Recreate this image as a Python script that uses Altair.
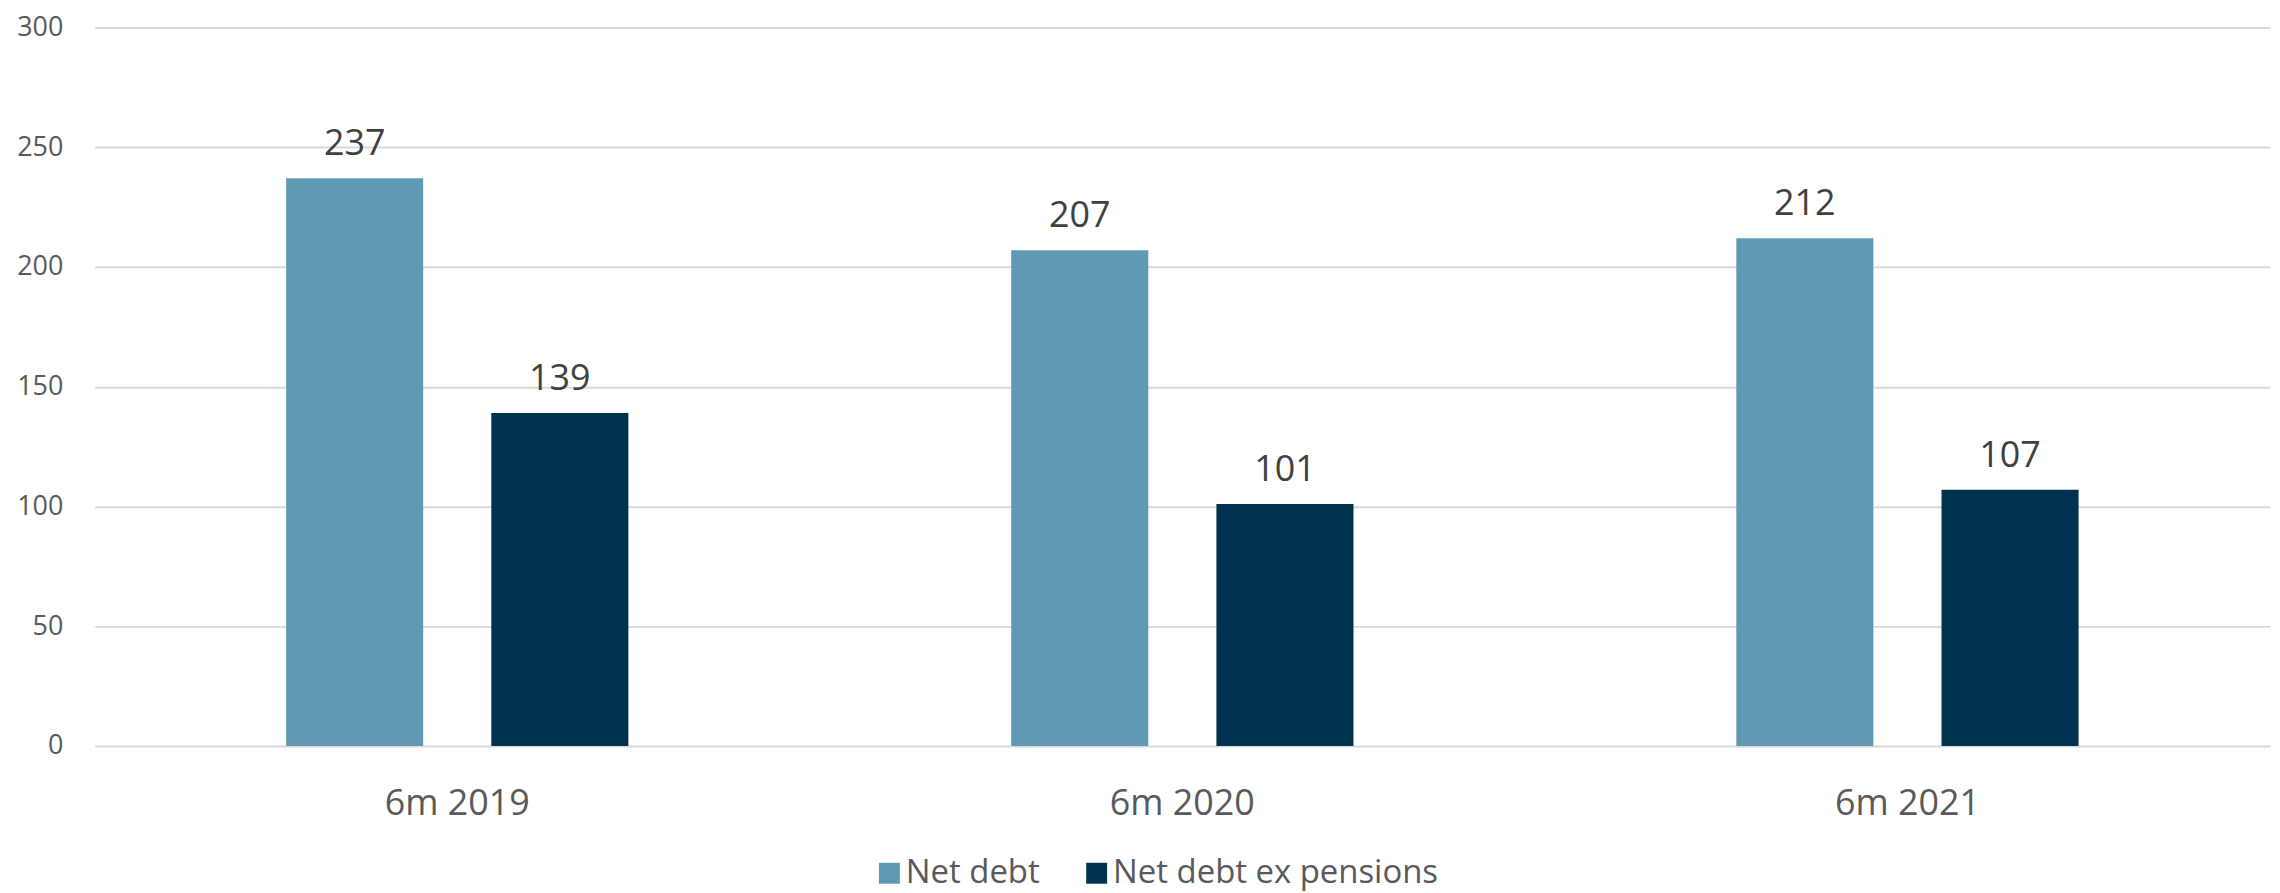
import altair as alt
import pandas as pd

categories = ["6m 2019", "6m 2020", "6m 2021"]
series_names = ["Net debt", "Net debt ex pensions"]
net_debt = [237, 207, 212]
net_debt_ex_pensions = [139, 101, 107]
series_colors = ["#6099B4", "#00324F"]

rows = []
for i, c in enumerate(categories):
    rows.append({"period": c, "series": series_names[0], "value": net_debt[i]})
    rows.append({"period": c, "series": series_names[1], "value": net_debt_ex_pensions[i]})
df = pd.DataFrame(rows)

FONT = "Open Sans"

x_enc = alt.X(
    "period:N",
    sort=categories,
    scale=alt.Scale(paddingInner=0.528, paddingOuter=0.264),
    axis=alt.Axis(
        title=None,
        domain=False,
        ticks=False,
        labelAngle=0,
        labelFont=FONT,
        labelFontSize=36,
        labelColor="#595959",
        labelPadding=69,
        labelBaseline="alphabetic",
        grid=False,
    ),
)
xoff_enc = alt.XOffset(
    "series:N",
    sort=series_names,
    scale=alt.Scale(paddingInner=0.332, paddingOuter=0),
)
y_enc = alt.Y(
    "value:Q",
    scale=alt.Scale(domain=[0, 300], nice=False),
    axis=alt.Axis(
        title=None,
        values=[0, 50, 100, 150, 200, 250, 300],
        domain=False,
        ticks=False,
        labelFont=FONT,
        labelFontSize=27,
        labelColor="#595959",
        labelPadding=32,
        grid=True,
        gridColor="#D9D9D9",
        gridWidth=2,
    ),
)

bars = alt.Chart(df).mark_bar().encode(
    x=x_enc,
    xOffset=xoff_enc,
    y=y_enc,
    color=alt.Color(
        "series:N",
        sort=series_names,
        scale=alt.Scale(domain=series_names, range=series_colors),
        legend=alt.Legend(
            title=None,
            orient="none",
            direction="horizontal",
            legendX=781,
            legendY=832,
            symbolType="square",
            symbolSize=441,
            symbolStrokeWidth=0,
            symbolOpacity=1,
            labelFont=FONT,
            labelFontSize=33,
            labelColor="#595959",
            labelOffset=0,
            labelLimit=1000,
            columnPadding=40,
            padding=0,
        ),
    ),
)

labels = alt.Chart(df).mark_text(
    font=FONT,
    fontSize=36,
    color="#404040",
    baseline="alphabetic",
    dy=-23,
).encode(
    x=alt.X("period:N", sort=categories),
    xOffset=alt.XOffset("series:N", sort=series_names),
    y=alt.Y("value:Q"),
    text="value:Q",
)

chart = (
    alt.layer(bars, labels)
    .properties(
        width=2183,
        height=721,
        background="white",
        autosize=alt.AutoSizeParams(type="none"),
        padding={"left": 87, "top": 18, "right": 2, "bottom": 146},
    )
    .configure_view(stroke="transparent", strokeWidth=0)
    .configure_axis(domain=False, ticks=False)
    .configure_axisX(grid=False)
)

chart.save("out.html", embed_options={"renderer": "svg", "actions": False})
